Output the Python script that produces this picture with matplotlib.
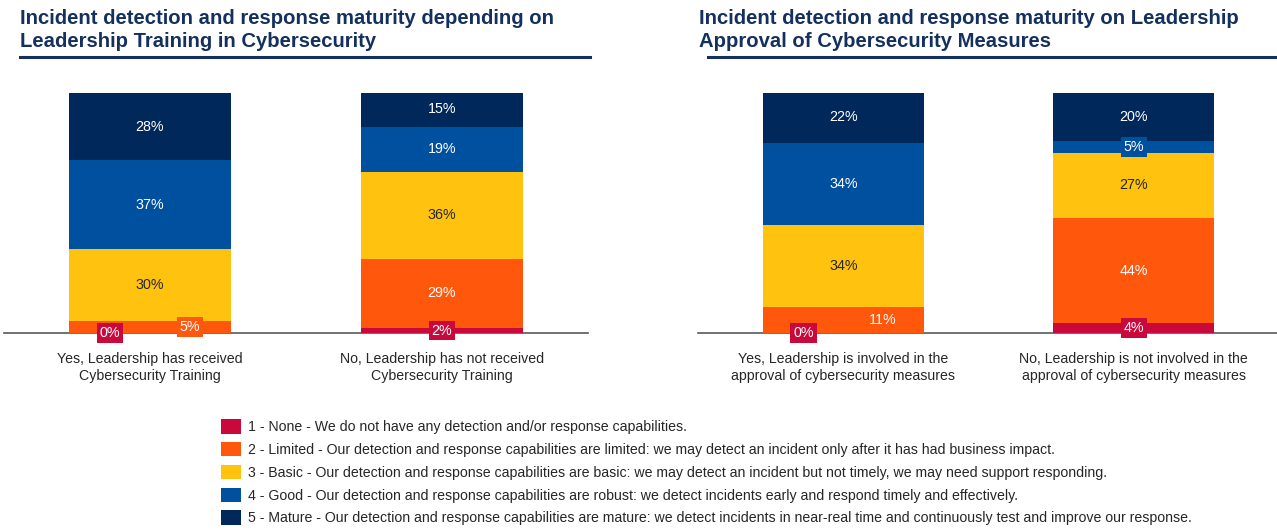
import numpy as np
import matplotlib
matplotlib.use("Agg")
import matplotlib.pyplot as plt
from matplotlib.lines import Line2D
from matplotlib.patches import Patch

plt.rcParams['font.family'] = ['Liberation Sans', 'DejaVu Sans']

# maturity levels, bottom to top
levels = [
    "1 - None - We do not have any detection and/or response capabilities.",
    "2 - Limited - Our detection and response capabilities are limited: we may detect an incident only after it has had business impact.",
    "3 - Basic - Our detection and response capabilities are basic: we may detect an incident but not timely, we may need support responding.",
    "4 - Good - Our detection and response capabilities are robust: we detect incidents early and respond timely and effectively.",
    "5 - Mature - Our detection and response capabilities are mature: we detect incidents in near-real time and continuously test and improve our response.",
]
level_colors = ['#C9093B', '#FF580D', '#FFC20E', '#0050A0', '#00285A']
label_colors = ['white', 'white', '#262626', 'white', 'white']

# left panel: leadership training
training_title = "Incident detection and response maturity depending on\nLeadership Training in Cybersecurity"
training_groups = ["Yes, Leadership has received\nCybersecurity Training",
                   "No, Leadership has not received\nCybersecurity Training"]
training_values = [
    [0, 5, 30, 37, 28],
    [2, 29, 36, 19, 15],
]

# right panel: leadership approval
approval_title = "Incident detection and response maturity on Leadership\nApproval of Cybersecurity Measures"
approval_groups = ["Yes, Leadership is involved in the\napproval of cybersecurity measures",
                   "No, Leadership is not involved in the\napproval of cybersecurity measures"]
approval_values = [
    [0, 11, 34, 34, 22],
    [4, 44, 27, 5, 20],
]

title_color = '#14305F'
text_color = '#262626'

W, H = 1277, 530
fig = plt.figure(figsize=(W / 100, H / 100), dpi=100)


def stacked(ax, groups, values):
    values = np.array(values, dtype=float)
    x = np.arange(len(groups))
    width = 0.555
    bottom = np.zeros(len(groups))
    for k in range(values.shape[1]):
        v = values[:, k]
        ax.bar(x, v, width, bottom=bottom, color=level_colors[k], linewidth=0)
        for i in range(len(groups)):
            xi = x[i]
            # a zero segment is pushed left and its neighbour right so both stay readable
            if v[i] == 0:
                xi -= 0.137
            elif k > 0 and values[i, k - 1] == 0:
                xi += 0.137
            ax.text(xi, bottom[i] + v[i] / 2, f"{v[i]:.0f}%", ha='center', va='center',
                    fontsize=10.3, color=label_colors[k],
                    bbox=dict(boxstyle='square,pad=0.2', facecolor=level_colors[k],
                              edgecolor='none'))
        bottom += v
    ax.set_xlim(-0.5, 1.5)
    ax.set_ylim(0, 100)
    ax.set_xticks(x)
    ax.set_xticklabels(groups, fontsize=10.2, color=text_color, linespacing=1.25)
    ax.tick_params(axis='x', length=0, pad=14)
    ax.set_yticks([])
    for s in ['top', 'left', 'right']:
        ax.spines[s].set_visible(False)
    ax.spines['bottom'].set_color('#595959')
    ax.spines['bottom'].set_linewidth(1.2)
    ax.spines['bottom'].set_zorder(0)


ax1 = fig.add_axes([4 / W, 1 - 333 / H, 584 / W, 240 / H])
ax2 = fig.add_axes([698 / W, 1 - 333 / H, 581 / W, 240 / H])
stacked(ax1, training_groups, training_values)
stacked(ax2, approval_groups, approval_values)

# panel titles with rule underneath
for tx, x0, x1, title in [(20, 20, 590, training_title), (699, 708, 1277, approval_title)]:
    fig.text(tx / W, 1 - 9 / H, title, ha='left', va='top', fontsize=14.6,
             fontweight='bold', color=title_color, linespacing=1.24)
    fig.add_artist(Line2D([x0 / W, x1 / W], [1 - 57 / H, 1 - 57 / H],
                          color=title_color, lw=2.2))

handles = [Patch(facecolor=c, edgecolor='none') for c in level_colors]
fig.legend(handles, levels, loc='upper left', bbox_to_anchor=(214 / W, 1 - 412 / H),
           frameon=False, fontsize=10.2, handlelength=1.42, handleheight=1.2,
           handletextpad=0.5, labelspacing=0.55, borderpad=0, labelcolor=text_color)

fig.savefig('out.png', dpi=100, facecolor='white')
